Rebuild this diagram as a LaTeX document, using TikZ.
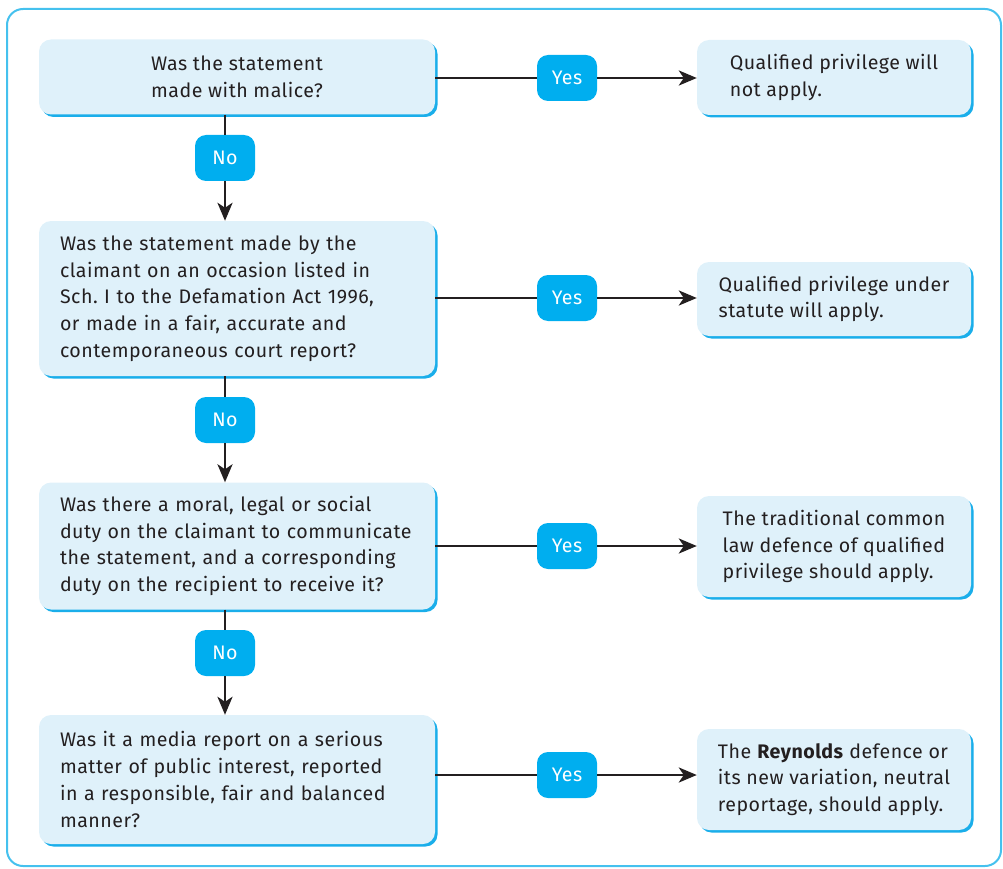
\documentclass[tikz,border=0pt]{standalone}
\usepackage{fontspec}
\setmainfont{Fira Sans}[LetterSpace=2.5]
\usetikzlibrary{arrows.meta,shadows}
\definecolor{boxfill}{HTML}{DFF1FA}
\definecolor{boxedge}{HTML}{1AAEEA}
\definecolor{tagfill}{HTML}{00AEEF}
\definecolor{ink}{HTML}{231F20}
\definecolor{framec}{HTML}{45C1EE}
\tikzset{
  qbox/.style={fill=boxfill, rounded corners=12pt, text=ink, inner ysep=0pt,
    font=\fontsize{19.6}{26.7}\selectfont,
    drop shadow={shadow xshift=2.5pt, shadow yshift=-2.5pt, fill=boxedge, opacity=1}},
  lbox/.style={qbox, inner xsep=21pt, text width=354pt, align=left},
  rbox/.style={qbox, minimum width=274pt, align=left, inner xsep=0pt},
  tag/.style={fill=tagfill, rounded corners=11pt, text=white, minimum width=60pt,
    minimum height=46pt, inner sep=0pt, font=\fontsize{19.6}{22}\selectfont},
  conn/.style={draw=ink, line width=2.8pt},
  arr/.style={conn, -{Stealth[length=18pt,width=15pt,inset=5pt]}},
}
\begin{document}
\begin{tikzpicture}[x=1pt,y=-1pt]
\useasboundingbox (0,0) rectangle (1003,869);
\draw[framec, line width=2pt, rounded corners=16pt] (7,9) rectangle (1001,866);
% left question boxes
\node[qbox, minimum width=396pt, minimum height=75pt, align=center] (L1) at (237,77)
  {Was the statement\\made with malice?};
\node[lbox, minimum height=155pt] (L2) at (237,298.5)
  {Was the statement made by the\\claimant on an occasion listed in\\Sch.\ I to the Defamation Act 1996,\\or made in a fair, accurate and\\contemporaneous court report?};
\node[lbox, minimum height=127pt] (L3) at (237,546)
  {Was there a moral, legal or social\\duty on the claimant to communicate\\the statement, and a corresponding\\duty on the recipient to receive it?};
\node[lbox, minimum height=129pt] (L4) at (237,779.5)
  {Was it a media report on a serious\\matter of public interest, reported\\in a responsible, fair and balanced\\manner?};
% right outcome boxes
\node[rbox, minimum height=75pt] (R1) at (834,77.5)
  {Qualified privilege will\\not apply.};
\node[rbox, minimum height=74pt] (R2) at (834,299)
  {Qualified privilege under\\statute will apply.};
\node[rbox, minimum height=101pt] (R3) at (834,546.5)
  {The traditional common\\law defence of qualified\\privilege should apply.};
\node[rbox, minimum height=101pt] (R4) at (834,779.5)
  {The \textbf{Reynolds} defence or\\its new variation, neutral\\reportage, should apply.};
% tags
\node[tag] (Y1) at (567,78) {Yes};
\node[tag] (Y2) at (567,298) {Yes};
\node[tag] (Y3) at (567,546) {Yes};
\node[tag] (Y4) at (567,775) {Yes};
\node[tag] (N1) at (225,158) {No};
\node[tag] (N2) at (225,420) {No};
\node[tag] (N3) at (225,653) {No};
% horizontal connectors
\draw[conn] (L1.east |- Y1) -- (Y1.west);
\draw[arr] (Y1.east) -- (R1.west |- Y1);
\draw[conn] (L2.east |- Y2) -- (Y2.west);
\draw[arr] (Y2.east) -- (R2.west |- Y2);
\draw[conn] (L3.east |- Y3) -- (Y3.west);
\draw[arr] (Y3.east) -- (R3.west |- Y3);
\draw[conn] (L4.east |- Y4) -- (Y4.west);
\draw[arr] (Y4.east) -- (R4.west |- Y4);
% vertical connectors
\draw[conn] (L1.south -| N1) -- (N1.north);
\draw[arr] (N1.south) -- (L2.north -| N1);
\draw[conn] (L2.south -| N2) -- (N2.north);
\draw[arr] (N2.south) -- (L3.north -| N2);
\draw[conn] (L3.south -| N3) -- (N3.north);
\draw[arr] (N3.south) -- (L4.north -| N3);
\end{tikzpicture}
\end{document}
